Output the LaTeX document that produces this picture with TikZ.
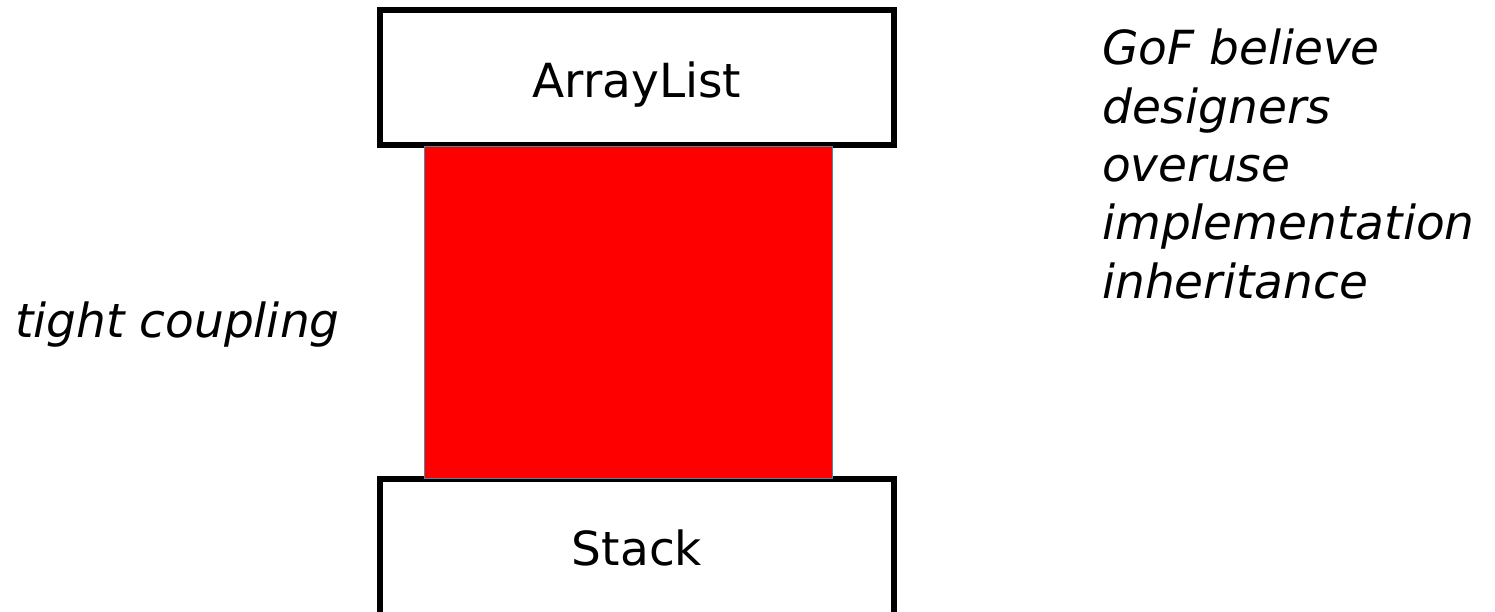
\documentclass[tikz,border=0pt]{standalone}
\usepackage{fontspec}
\setmainfont{DejaVu Sans}
\definecolor{edgeteal}{RGB}{74,138,160}
\definecolor{fillred}{RGB}{255,0,0}
\begin{document}
\begin{tikzpicture}[x=1pt,y=-1pt,
  classbox/.style={draw=black, line width=6pt, fill=white, minimum width=514pt, minimum height=135.5pt, inner sep=0pt},
  couplingblock/.style={draw=edgeteal, line width=1.2pt, fill=fillred, minimum width=408pt, minimum height=332pt, inner sep=0pt},
  boxlabel/.style={font=\fontsize{47}{56}\selectfont, anchor=base, inner sep=0pt},
  note/.style={font=\fontsize{47}{56}\selectfont\itshape, anchor=base west, inner sep=0pt}]
  \useasboundingbox (0,0) rectangle (1495,612);
  \clip (0,0) rectangle (1495,612);
  % the two classes
  \node[classbox] (arraylist) at (637,77.75) {};
  \node[classbox] (stack) at (637,546.75) {};
  % inheritance block joining them
  \node[couplingblock] (coupling) at (628.5,312.5) {};
  % class names
  \node[boxlabel] (arraylistname) at (637,98) {ArrayList};
  \node[boxlabel] (stackname) at (637,565) {Stack};
  % side remarks
  \node[note] (tight) at (15,337) {tight coupling};
  \node[note] (gof1) at (1102,65) {GoF believe};
  \node[note] (gof2) at (1102,123.3) {designers};
  \node[note] (gof3) at (1102,181.6) {overuse};
  \node[note] (gof4) at (1102,240) {implementation};
  \node[note] (gof5) at (1102,298.3) {inheritance};
\end{tikzpicture}
\end{document}
